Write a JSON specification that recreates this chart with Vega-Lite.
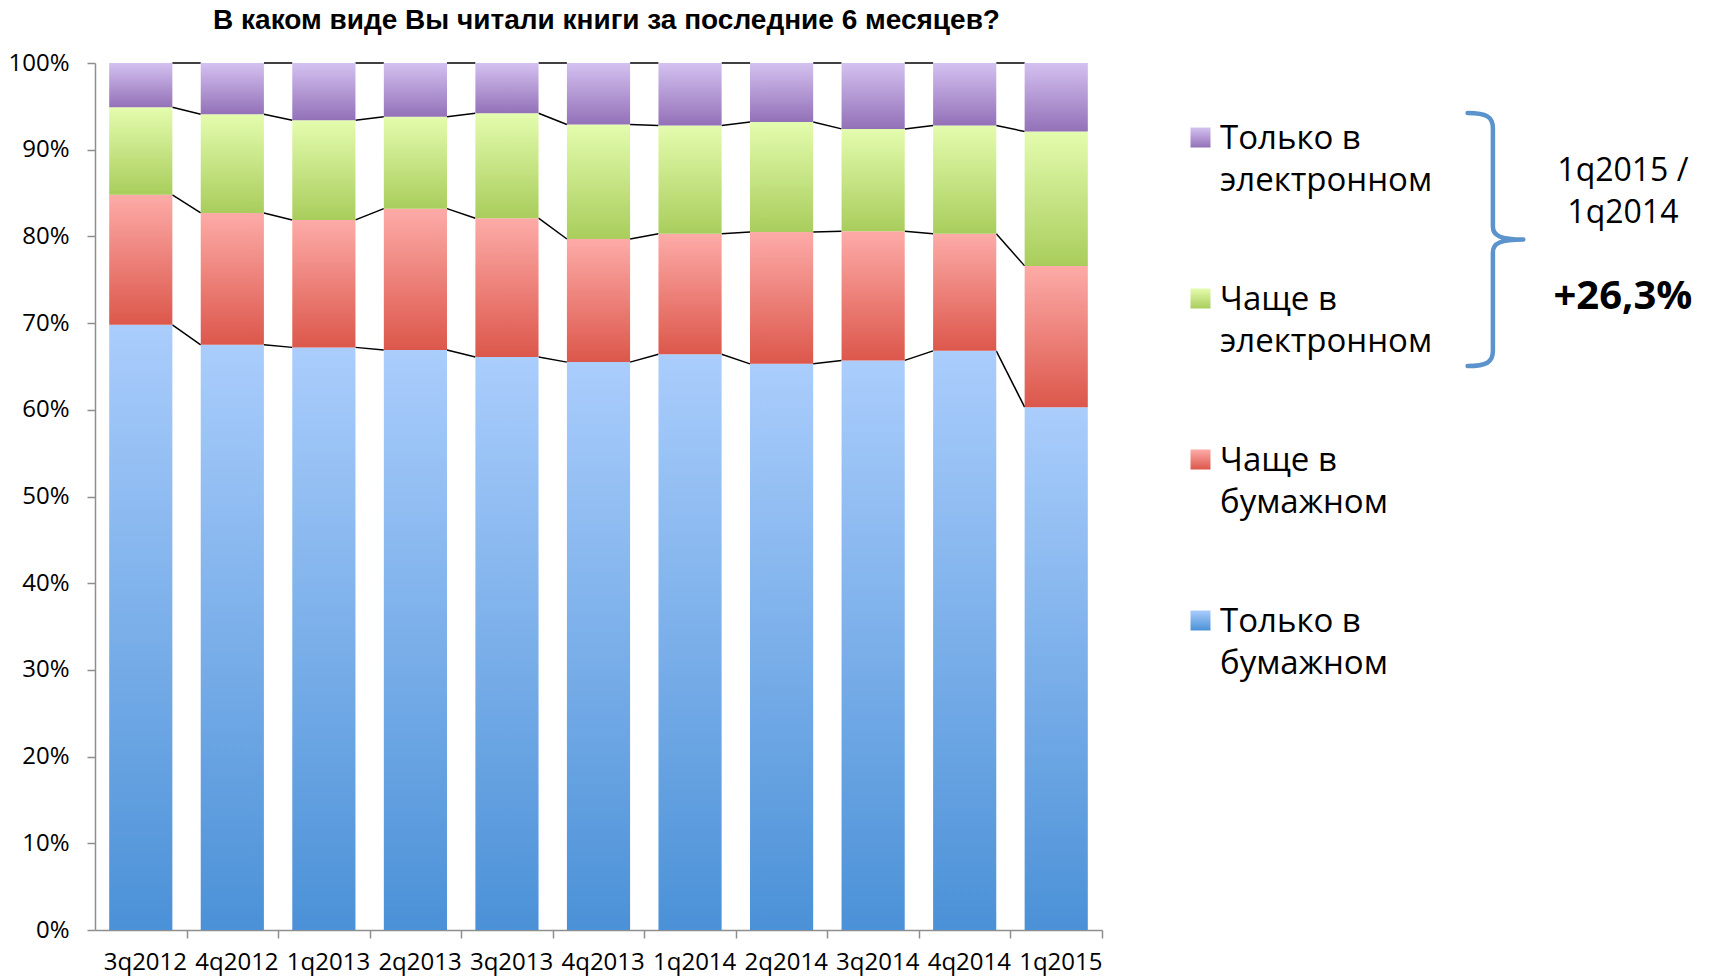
{
  "$schema": "https://vega.github.io/schema/vega-lite/v6.json",
  "width": 1007,
  "height": 867,
  "autosize": {"type": "none"},
  "padding": {"left": 95, "top": 63, "right": 612, "bottom": 47},
  "background": "white",
  "config": {"view": {"stroke": null}, "font": "Open Sans", "axis": {"grid": false}},
  "title": {
    "text": "В каком виде Вы читали книги за последние 6 месяцев?",
    "font": "Liberation Sans",
    "fontSize": 28,
    "fontWeight": "bold",
    "color": "black",
    "anchor": "middle",
    "frame": "group",
    "offset": 16,
    "dx": 8
  },
  "datasets": {
    "shares": [
      {"q": "3q2012", "s": "Только в бумажном", "v": 69.8},
      {"q": "3q2012", "s": "Чаще в бумажном", "v": 15.0},
      {"q": "3q2012", "s": "Чаще в электронном", "v": 10.1},
      {"q": "3q2012", "s": "Только в электронном", "v": 5.1},
      {"q": "4q2012", "s": "Только в бумажном", "v": 67.5},
      {"q": "4q2012", "s": "Чаще в бумажном", "v": 15.2},
      {"q": "4q2012", "s": "Чаще в электронном", "v": 11.4},
      {"q": "4q2012", "s": "Только в электронном", "v": 5.9},
      {"q": "1q2013", "s": "Только в бумажном", "v": 67.2},
      {"q": "1q2013", "s": "Чаще в бумажном", "v": 14.7},
      {"q": "1q2013", "s": "Чаще в электронном", "v": 11.5},
      {"q": "1q2013", "s": "Только в электронном", "v": 6.6},
      {"q": "2q2013", "s": "Только в бумажном", "v": 66.9},
      {"q": "2q2013", "s": "Чаще в бумажном", "v": 16.3},
      {"q": "2q2013", "s": "Чаще в электронном", "v": 10.6},
      {"q": "2q2013", "s": "Только в электронном", "v": 6.2},
      {"q": "3q2013", "s": "Только в бумажном", "v": 66.1},
      {"q": "3q2013", "s": "Чаще в бумажном", "v": 16.0},
      {"q": "3q2013", "s": "Чаще в электронном", "v": 12.1},
      {"q": "3q2013", "s": "Только в электронном", "v": 5.8},
      {"q": "4q2013", "s": "Только в бумажном", "v": 65.5},
      {"q": "4q2013", "s": "Чаще в бумажном", "v": 14.2},
      {"q": "4q2013", "s": "Чаще в электронном", "v": 13.2},
      {"q": "4q2013", "s": "Только в электронном", "v": 7.1},
      {"q": "1q2014", "s": "Только в бумажном", "v": 66.4},
      {"q": "1q2014", "s": "Чаще в бумажном", "v": 13.9},
      {"q": "1q2014", "s": "Чаще в электронном", "v": 12.5},
      {"q": "1q2014", "s": "Только в электронном", "v": 7.2},
      {"q": "2q2014", "s": "Только в бумажном", "v": 65.3},
      {"q": "2q2014", "s": "Чаще в бумажном", "v": 15.2},
      {"q": "2q2014", "s": "Чаще в электронном", "v": 12.7},
      {"q": "2q2014", "s": "Только в электронном", "v": 6.8},
      {"q": "3q2014", "s": "Только в бумажном", "v": 65.7},
      {"q": "3q2014", "s": "Чаще в бумажном", "v": 14.9},
      {"q": "3q2014", "s": "Чаще в электронном", "v": 11.8},
      {"q": "3q2014", "s": "Только в электронном", "v": 7.6},
      {"q": "4q2014", "s": "Только в бумажном", "v": 66.8},
      {"q": "4q2014", "s": "Чаще в бумажном", "v": 13.5},
      {"q": "4q2014", "s": "Чаще в электронном", "v": 12.5},
      {"q": "4q2014", "s": "Только в электронном", "v": 7.2},
      {"q": "1q2015", "s": "Только в бумажном", "v": 60.3},
      {"q": "1q2015", "s": "Чаще в бумажном", "v": 16.3},
      {"q": "1q2015", "s": "Чаще в электронном", "v": 15.5},
      {"q": "1q2015", "s": "Только в электронном", "v": 7.9}
    ],
    "notes": [
      {"t": "1q2015 /", "nx": 16.69, "ny": 87.6},
      {"t": "1q2014", "nx": 16.69, "ny": 82.7}
    ],
    "result": [
      {"t": "+26,3%", "nx": 16.69, "ny": 73.0}
    ],
    "brace": [
      {"nx": 15.27, "ny": 79.64}
    ]
  },
  "layer": [
    {
      "layer": [
        {
          "data": {"name": "shares"},
          "transform": [
            {"stack": "v", "groupby": ["q"], "as": ["y0", "y1"]},
            {"window": [{"op": "lead", "field": "y1", "as": "ny1"}, {"op": "lead", "field": "q", "as": "nq"}], "groupby": ["s"]},
            {"filter": "datum.nq != null"}
          ],
          "mark": {"type": "rule", "color": "black", "strokeWidth": 1.5},
          "encoding": {
            "x": {"field": "q", "type": "nominal", "bandPosition": 1, "title": null,
                  "scale": {"domain": ["3q2012","4q2012","1q2013","2q2013","3q2013","4q2013","1q2014","2q2014","3q2014","4q2014","1q2015"], "paddingInner": 0.31, "paddingOuter": 0.155}},
            "x2": {"field": "nq", "bandPosition": 0},
            "y": {"field": "y1", "type": "quantitative", "title": null, "scale": {"domain": [0, 100], "nice": false}},
            "y2": {"field": "ny1"}
          }
        },
        {
          "data": {"name": "shares"},
          "transform": [
            {"stack": "v", "groupby": ["q"], "as": ["y0", "y1"]}
          ],
          "mark": {"type": "bar"},
          "encoding": {
            "x": {"field": "q", "type": "nominal", "title": null,
                  "scale": {"domain": ["3q2012","4q2012","1q2013","2q2013","3q2013","4q2013","1q2014","2q2014","3q2014","4q2014","1q2015"], "paddingInner": 0.31, "paddingOuter": 0.155},
                  "axis": {"title": null, "labelAngle": 0, "labelFontSize": 24, "labelFont": "Open Sans", "labelColor": "black", "tickOffset": 45.77, "labelOffset": 0, "tickSize": 8, "tickColor": "#8e8e8e", "domainColor": "#8e8e8e", "tickWidth": 1.5, "domainWidth": 1.5, "labelPadding": 24}},
            "y": {"field": "y0", "type": "quantitative", "title": null, "scale": {"domain": [0, 100], "nice": false},
                  "axis": {"title": null, "values": [0,10,20,30,40,50,60,70,80,90,100], "labelExpr": "datum.value + '%'", "labelFontSize": 24, "labelFont": "Open Sans", "labelColor": "black", "tickSize": 8, "tickColor": "#8e8e8e", "domainColor": "#8e8e8e", "tickWidth": 1.5, "domainWidth": 1.5, "labelPadding": 18}},
            "y2": {"field": "y1"},
            "color": {"field": "s", "type": "nominal",
              "scale": {
                "domain": ["Только в электронном", "Чаще в электронном", "Чаще в бумажном", "Только в бумажном"],
                "range": [
                  {"expr": "{gradient: 'linear', x1: 0, y1: 0, x2: 0, y2: 1, stops: [{offset: 0, color: '#d4c1f0'}, {offset: 1, color: '#9371b8'}]}"},
                  {"expr": "{gradient: 'linear', x1: 0, y1: 0, x2: 0, y2: 1, stops: [{offset: 0, color: '#e4fcae'}, {offset: 1, color: '#a9cd5c'}]}"},
                  {"expr": "{gradient: 'linear', x1: 0, y1: 0, x2: 0, y2: 1, stops: [{offset: 0, color: '#fdaba8'}, {offset: 1, color: '#dc574b'}]}"},
                  {"expr": "{gradient: 'linear', x1: 0, y1: 0, x2: 0, y2: 1, stops: [{offset: 0, color: '#aacdfc'}, {offset: 1, color: '#4b91d7'}]}"}
                ]
              },
              "legend": {
                "title": null, "orient": "none", "legendX": 1089, "legendY": 58, "direction": "vertical", "padding": 0,
                "symbolType": "square", "symbolSize": 400, "symbolStrokeWidth": 0,
                "labelFont": "Open Sans", "labelFontSize": 33, "labelColor": "black", "labelLimit": 400, "labelOffset": 3, "rowPadding": 84,
                "labelExpr": "[slice(datum.label, 0, indexof(datum.label, ' в ') + 2), slice(datum.label, indexof(datum.label, ' в ') + 3)]",
                "encode": {"labels": {"update": {"lineHeight": {"value": 42}, "dy": {"value": 1}}}}
              }
            }
          }
        }
      ]
    },
    {
      "layer": [
        {
          "data": {"name": "brace"},
          "mark": {"type": "point", "shape": "M -0.2 -1 C -0.05 -1 0 -0.97 0 -0.88 L 0 -0.1 C 0 -0.03 0.06 0 0.24 0 M 0.24 0 C 0.06 0 0 0.03 0 0.1 L 0 0.88 C 0 0.97 -0.05 1 -0.2 1", "filled": false, "color": "#5b93cc", "stroke": "#5b93cc", "strokeWidth": 4.5, "size": 64009, "opacity": 1, "strokeCap": "round"},
          "encoding": {
            "x": {"field": "nx", "type": "quantitative", "scale": {"domain": [0, 11], "nice": false, "zero": false}, "axis": null},
            "y": {"field": "ny", "type": "quantitative", "title": null}
          }
        },
        {
          "data": {"name": "notes"},
          "mark": {"type": "text", "font": "Open Sans", "fontSize": 32, "color": "black", "align": "center", "baseline": "middle"},
          "encoding": {
            "x": {"field": "nx", "type": "quantitative", "scale": {"domain": [0, 11], "nice": false, "zero": false}, "axis": null},
            "y": {"field": "ny", "type": "quantitative", "title": null},
            "text": {"field": "t"}
          }
        },
        {
          "data": {"name": "result"},
          "mark": {"type": "text", "font": "Open Sans", "fontSize": 40, "fontWeight": "bold", "color": "black", "align": "center", "baseline": "middle"},
          "encoding": {
            "x": {"field": "nx", "type": "quantitative", "scale": {"domain": [0, 11], "nice": false, "zero": false}, "axis": null},
            "y": {"field": "ny", "type": "quantitative", "title": null},
            "text": {"field": "t"}
          }
        }
      ]
    }
  ],
  "resolve": {"scale": {"x": "independent"}}
}
